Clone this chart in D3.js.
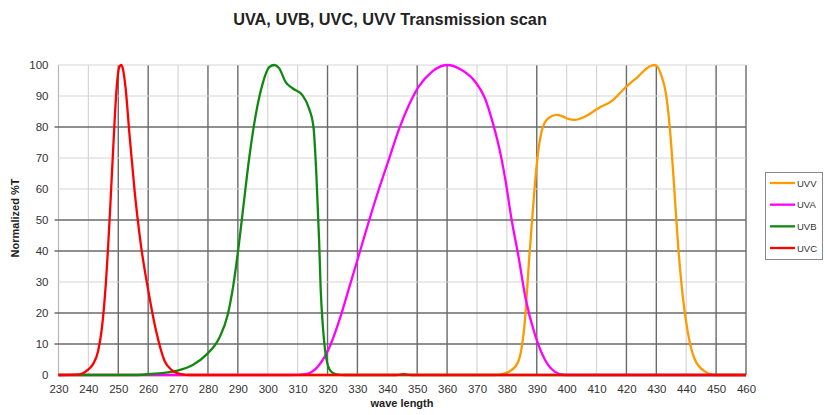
<!DOCTYPE html>
<html>
<head>
<meta charset="utf-8">
<script src="https://cdn.jsdelivr.net/npm/d3@7"></script>
<style>
  html, body { margin: 0; padding: 0; background: #fff; }
  svg { display: block; font-family: "Liberation Sans", Arial, sans-serif; }
</style>
</head>
<body>
<svg id="chart" width="825" height="415"></svg>
<script>
// ---- data ----
const seriesNames = ["UVV", "UVA", "UVB", "UVC"];
const xTicks = [230,240,250,260,270,280,290,300,310,320,330,340,350,360,370,380,390,400,410,420,430,440,450,460];
const yTicks = [0,10,20,30,40,50,60,70,80,90,100];

const uvv = [[230,0],[376,0],[379.4,0.5],[381,1.2],[383.8,4.3],[386,17.2],[387.5,38],[388.6,52],[389.9,67],[391.6,78.5],[393.8,82.8],[396.6,83.9],[398.5,83.5],[400.5,82.6],[402.7,82.3],[406,83.3],[410.5,86],[415.5,88.7],[419.4,92.5],[423.8,96.2],[427.7,99.5],[429.4,100],[430.5,99.3],[431.6,96.8],[433.3,90.3],[434.9,75.3],[436,60.2],[437.2,43],[438.8,25.8],[440.5,14],[442.7,5.4],[446,1.3],[449.4,0],[460,0]];
const uva = [[230,0],[308,0],[312.7,0.3],[314,0.6],[317.2,3.2],[320.5,8.6],[323.8,17.2],[327.2,28],[330.5,38.7],[333.8,49.5],[337.2,60],[340.5,69.5],[343.8,79],[347.2,87],[350.5,93],[354.9,97.8],[359.9,100],[364.9,98.4],[369.4,94.6],[372.7,89.2],[375.5,80.6],[377.5,73],[379.5,63],[381.6,50],[383.8,38.7],[386.3,24.5],[389.4,13],[392.7,5],[396,1.1],[399.4,0],[460,0]];
const uvb = [[230,0],[255,0],[262,0.4],[269.4,1.3],[274.9,3.2],[279.4,6.5],[283.8,12],[286.5,19],[288.5,29],[290.2,41],[291.8,54],[293.8,70],[296,84],[298.3,94],[300.5,99.3],[302.2,100],[303.8,99],[306,94.5],[308.3,92.5],[311.6,90.3],[313.8,86],[315.3,80],[316.3,64],[317.2,43],[317.7,28],[318.5,15],[319.4,6.5],[321,1.3],[323,0.2],[326,0],[460,0]];
const uvc = [[230,0],[236,0.1],[238,0.5],[240,1.8],[241.6,3.6],[243.2,7.5],[244.5,15],[245.8,29],[247.2,52],[248.4,75],[249.4,92],[250.4,99.5],[251,100],[251.6,98.5],[252.4,93],[253.8,77],[255.5,59],[257.7,41],[259.9,28],[262.7,14],[265.5,4.5],[268,1.5],[271,0.3],[274,0],[343,0],[345.5,0.3],[348,0],[460,0]];

// ---- style ----
const colors = { UVV: "#ff9900", UVA: "#ff00ff", UVB: "#118811", UVC: "#ff0000" };
const darkX = [250,260,280,290,320,330,350,360,390,420,430,450,460];
const darkY = [10,20,40,50,80];

const svg = d3.select("#chart");
const mLeft = 58.5, mRight = 746, mTop = 65, mBottom = 375;

const x = d3.scaleLinear().domain([230, 460]).range([mLeft, mRight]);
const y = d3.scaleLinear().domain([0, 100]).range([mBottom, mTop]);

// gridlines
const grid = svg.append("g");
grid.selectAll("line.gx").data(xTicks).join("line")
  .attr("x1", d => x(d)).attr("x2", d => x(d))
  .attr("y1", mTop).attr("y2", mBottom)
  .attr("stroke", d => d === 230 ? "#b8b8b8" : (darkX.includes(d) ? "#6a6a6a" : "#d6d6d6"))
  .attr("stroke-width", d => darkX.includes(d) ? 1.4 : 1.2);
grid.selectAll("line.gy").data(yTicks).join("line")
  .attr("x1", d => darkY.includes(d) ? mLeft - 4 : mLeft).attr("x2", mRight)
  .attr("y1", d => y(d)).attr("y2", d => y(d))
  .attr("stroke", d => darkY.includes(d) ? "#6a6a6a" : "#d6d6d6")
  .attr("stroke-width", d => darkY.includes(d) ? 1.4 : 1.2);

// axes labels via d3 axes
const xAxis = d3.axisBottom(x).tickValues(xTicks).tickSize(0).tickPadding(10).tickFormat(d3.format("d"));
const gx = svg.append("g").attr("transform", `translate(0,${mBottom})`).call(xAxis);
gx.select(".domain").remove();
gx.selectAll("text").attr("font-size", "11.5px").attr("fill", "#333").attr("font-family", "Liberation Sans, Arial, sans-serif");

const yAxis = d3.axisLeft(y).tickValues(yTicks).tickSize(0).tickPadding(10).tickFormat(d3.format("d"));
const gy = svg.append("g").attr("transform", `translate(${mLeft},0)`).call(yAxis);
gy.select(".domain").remove();
gy.selectAll("text").attr("font-size", "11.5px").attr("fill", "#333").attr("font-family", "Liberation Sans, Arial, sans-serif");

// lines
const line = d3.line().x(d => x(d[0])).y(d => y(d[1])).curve(d3.curveMonotoneX);
const seriesData = { UVV: uvv, UVA: uva, UVB: uvb, UVC: uvc };
svg.append("g").selectAll("path").data(seriesNames).join("path")
  .attr("d", n => line(seriesData[n]))
  .attr("fill", "none")
  .attr("stroke", n => colors[n])
  .attr("stroke-width", 2.3)
  .attr("stroke-linejoin", "round");

// title & axis titles
svg.append("text").attr("x", 390).attr("y", 25).attr("text-anchor", "middle")
  .attr("font-size", "16.3px").attr("font-weight", "bold").attr("fill", "#222")
  .text("UVA, UVB, UVC, UVV Transmission scan");
svg.append("text").attr("x", 402).attr("y", 407).attr("text-anchor", "middle")
  .attr("font-size", "11px").attr("font-weight", "bold").attr("fill", "#222")
  .text("wave length");
svg.append("text").attr("transform", "translate(19,218) rotate(-90)").attr("text-anchor", "middle")
  .attr("font-size", "11px").attr("font-weight", "bold").attr("fill", "#222")
  .text("Normalized %T");

// legend
const lg = svg.append("g");
lg.append("rect").attr("x", 765.5).attr("y", 172.5).attr("width", 57).attr("height", 87)
  .attr("fill", "#fff").attr("stroke", "#888").attr("stroke-width", 1);
const ly = d3.scalePoint().domain(seriesNames).range([183, 248]);
const items = lg.selectAll("g.item").data(seriesNames).join("g");
items.append("line").attr("x1", 770).attr("x2", 795)
  .attr("y1", n => ly(n)).attr("y2", n => ly(n))
  .attr("stroke", n => colors[n]).attr("stroke-width", 2.3);
items.append("text").attr("x", 797).attr("y", n => ly(n) + 3.5)
  .attr("font-size", "9.5px").attr("fill", "#333").text(n => n);
</script>
</body>
</html>
